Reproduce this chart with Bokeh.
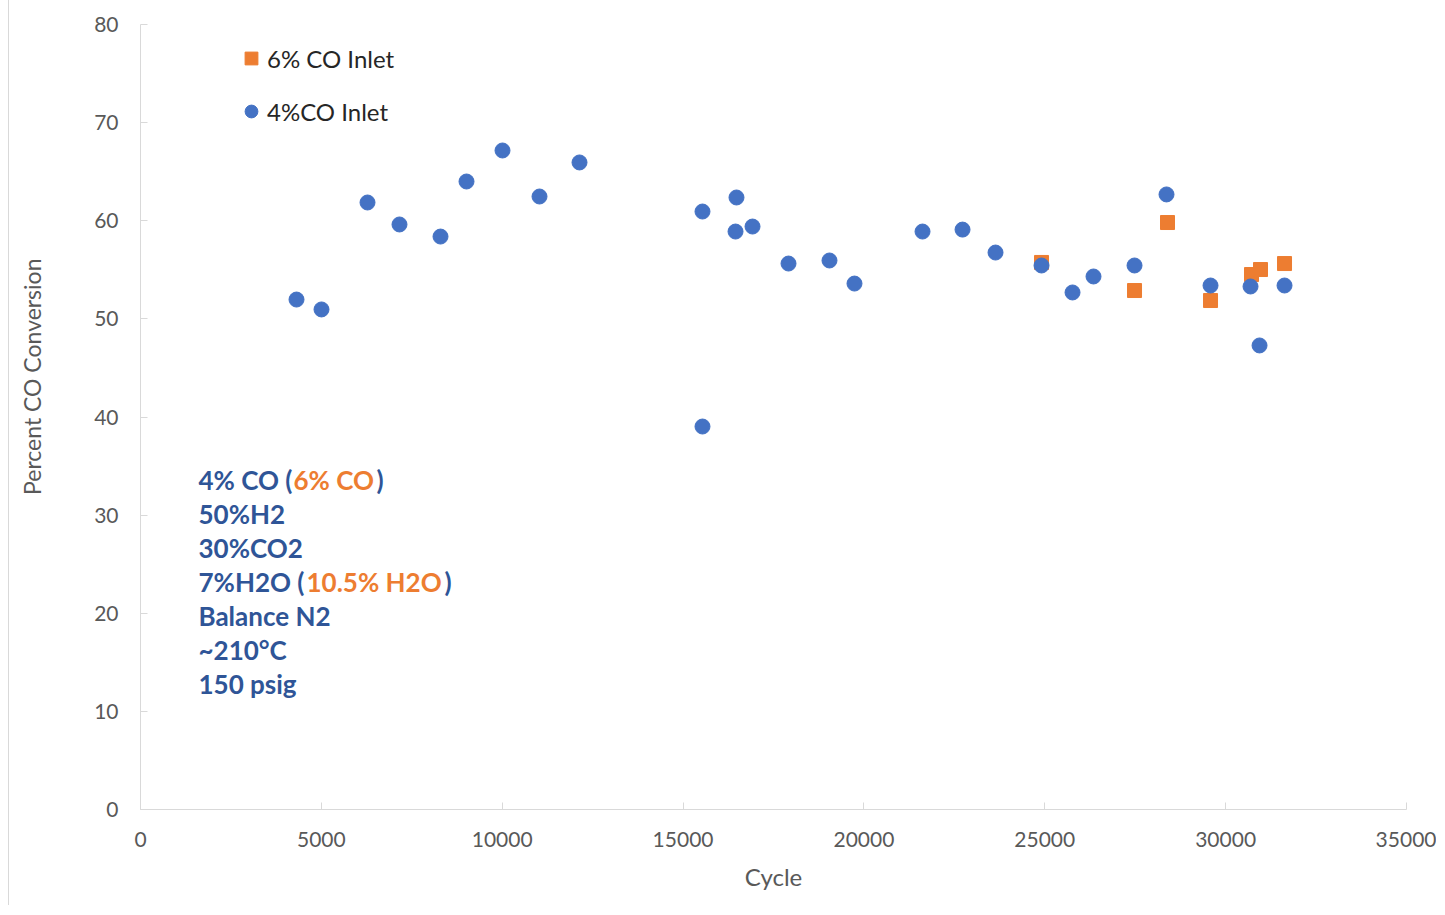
from bokeh.plotting import figure
from bokeh.models import Range1d, Legend, LegendItem, Label, FixedTicker
from bokeh.embed import file_html
from bokeh.resources import INLINE

# ---- data ----
cycle_4co = [4313, 5004, 6276, 7160, 8294, 9013, 10008, 11031, 12137, 15537, 15537,
             16477, 16450, 16920, 17915, 19048, 19739, 21620, 22726, 23638, 24910,
             25767, 26347, 27481, 28365, 29582, 30688, 30937, 31628]
conv_4co = [51.97, 50.96, 61.86, 59.62, 58.39, 64.0, 67.16, 62.47, 65.94, 60.94, 39.03,
            62.37, 58.9, 59.41, 55.64, 55.95, 53.6, 58.9, 59.1, 56.76, 55.44,
            52.69, 54.32, 55.44, 62.68, 53.4, 53.3, 47.29, 53.4]
cycle_6co = [24910, 27481, 28393, 29582, 30715, 30964, 31628]
conv_6co = [55.75, 52.89, 59.82, 51.87, 54.52, 55.03, 55.64]

x_ticks = [0, 5000, 10000, 15000, 20000, 25000, 30000, 35000]
y_ticks = [0, 10, 20, 30, 40, 50, 60, 70, 80]

legend_labels = ["6% CO Inlet", "4%CO Inlet"]
x_title = "Cycle"
y_title = "Percent CO Conversion"

# annotation lines: list of (segment text, colour key)
note_lines = [
    [("4% CO (", "b"), ("6% CO", "o"), (")", "b")],
    [("50%H2", "b")],
    [("30%CO2", "b")],
    [("7%H2O (", "b"), ("10.5% H2O", "o"), (")", "b")],
    [("Balance N2", "b")],
    [("~210°C", "b")],
    [("150 psig", "b")],
]

BLUE = "#4472C4"
ORANGE = "#ED7D31"
NOTE_BLUE = "#2F5597"
GRAY_TXT = "#595959"
AXIS_GRAY = "#d9d9d9"
FONT = "Lato"

W, H = 1428, 905
p = figure(width=W, height=H, output_backend="svg", toolbar_location=None,
           x_range=Range1d(0, 35000), y_range=Range1d(0, 80),
           min_border_left=131, min_border_right=W - 1397, min_border_top=24,
           min_border_bottom=H - 809)
p.styles = {"border-left": "1px solid #d9d9d9", "margin-left": "8px"}
p.outline_line_color = None
p.xgrid.visible = False
p.ygrid.visible = False

sq = p.scatter(cycle_6co, conv_6co, marker="square", size=14, color=ORANGE)
ci = p.scatter(cycle_4co, conv_4co, marker="circle", size=15, color=BLUE)

for ax in (p.xaxis[0], p.yaxis[0]):
    ax.axis_line_color = AXIS_GRAY
    ax.major_tick_line_color = AXIS_GRAY
    ax.minor_tick_line_color = None
    ax.major_tick_in = 7
    ax.major_tick_out = 0
    ax.major_label_text_color = GRAY_TXT
    ax.major_label_text_font = FONT
    ax.major_label_text_font_size = "21px"
    ax.axis_label_text_color = GRAY_TXT
    ax.axis_label_text_font = FONT
    ax.axis_label_text_font_style = "normal"

p.xaxis.axis_label_text_font_size = "24px"
p.yaxis.axis_label_text_font_size = "23px"
p.xaxis.ticker = FixedTicker(ticks=x_ticks)
p.yaxis.ticker = FixedTicker(ticks=y_ticks)
p.xaxis.major_label_standoff = 22
p.yaxis.major_label_standoff = 22
p.xaxis.axis_label = x_title
p.xaxis.axis_label_standoff = 12
# leading em/en spaces lift the visible title above the frame centre, as in the reference
p.yaxis.axis_label = "\u2003\u2003\u2003\u2003\u2002" + y_title
p.yaxis.axis_label_standoff = 45

legend = Legend(items=[LegendItem(label=legend_labels[0], renderers=[sq]),
                       LegendItem(label=legend_labels[1], renderers=[ci])],
                location=(95, 680), padding=0, margin=0, spacing=17,
                glyph_width=32, glyph_height=36, label_standoff=0,
                border_line_color=None, background_fill_alpha=0,
                label_text_font=FONT, label_text_font_size="24px",
                label_text_color="#262626")
p.add_layout(legend)

# annotation block (screen units relative to the frame)
seg_x = {
    (0, 0): 58, (0, 1): 153, (0, 2): 236,
    (3, 0): 58, (3, 1): 166, (3, 2): 304,
}
for i, segs in enumerate(note_lines):
    for j, (txt, ck) in enumerate(segs):
        p.add_layout(Label(x=seg_x.get((i, j), 58), y=785 - (455 + 34 * i),
                           x_units="screen", y_units="screen", text=txt,
                           text_font=FONT, text_font_style="bold", text_font_size="26px",
                           text_color=NOTE_BLUE if ck == "b" else ORANGE,
                           text_baseline="middle", text_align="left"))

open("out.html", "w").write(file_html(p, INLINE))
